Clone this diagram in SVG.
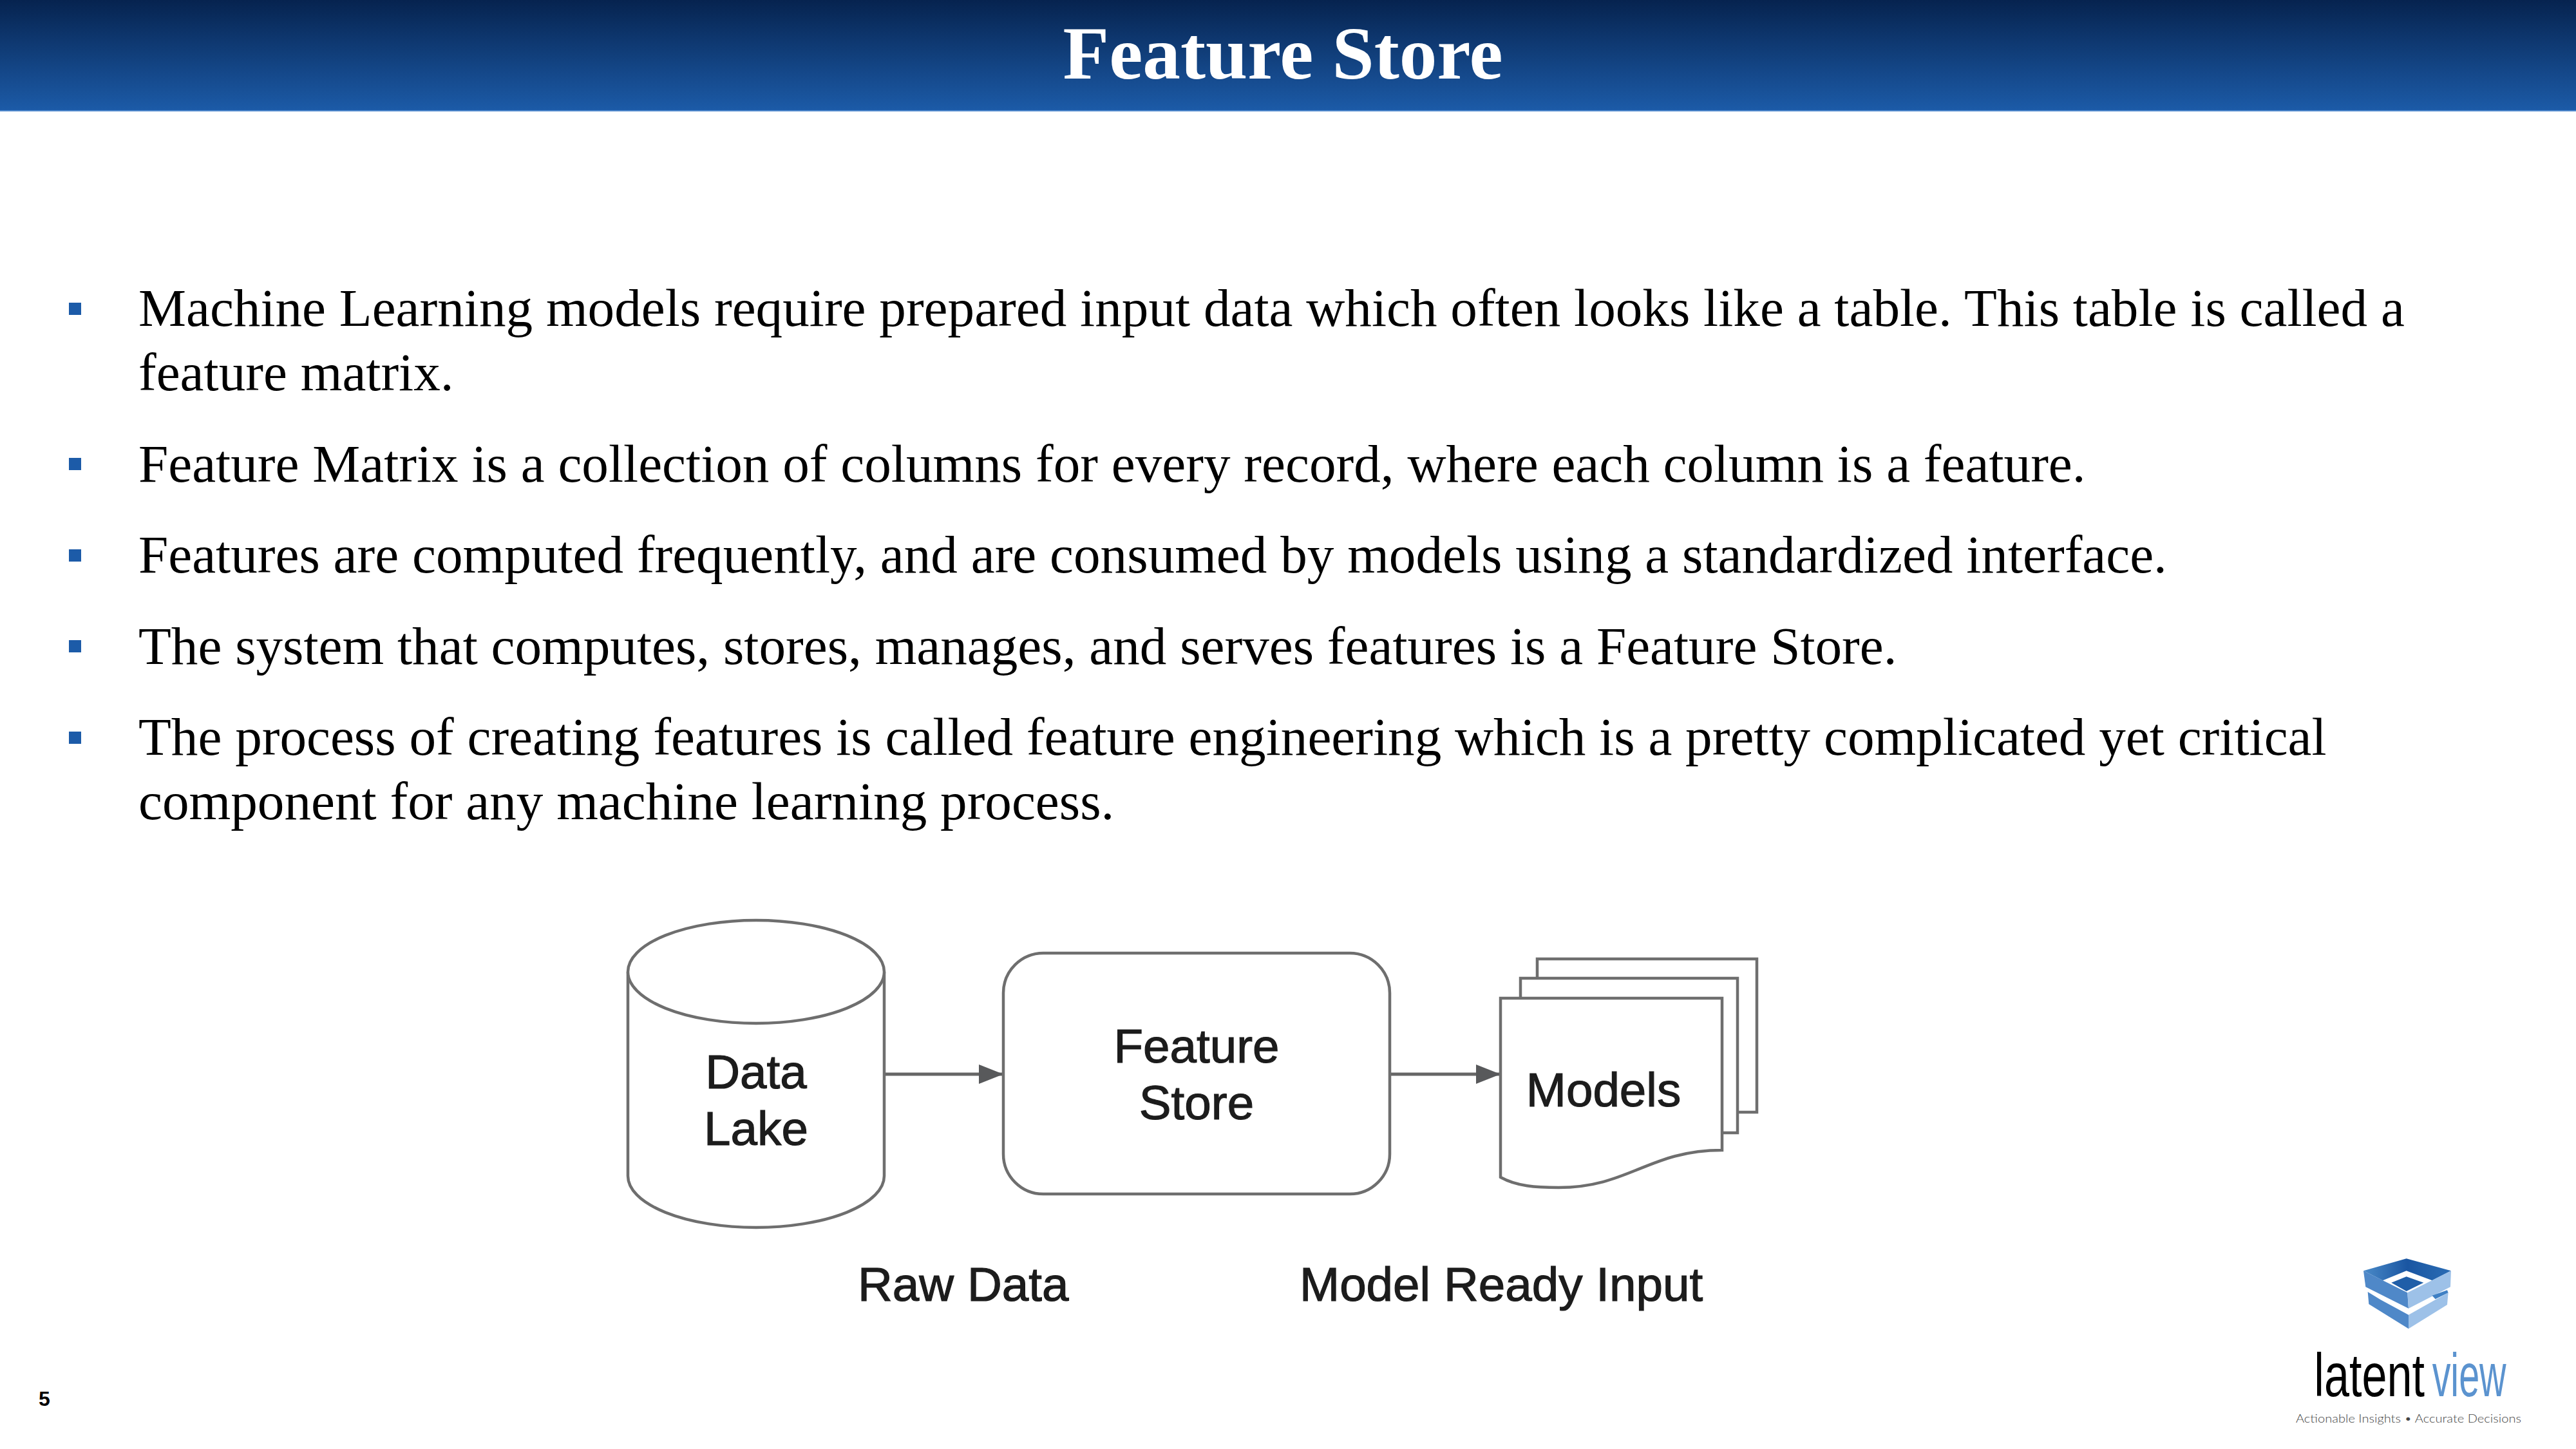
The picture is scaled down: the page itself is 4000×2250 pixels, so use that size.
<svg xmlns="http://www.w3.org/2000/svg" width="4000" height="2250" viewBox="0 0 4000 2250">
<defs>
<linearGradient id="hdr" x1="0" y1="0" x2="0" y2="1"><stop offset="0" stop-color="#06234f"/><stop offset="1" stop-color="#1c5ba8"/></linearGradient>
<linearGradient id="rim" x1="0" y1="0" x2="1" y2="0"><stop offset="0" stop-color="#4a8ac8"/><stop offset="0.5" stop-color="#1a56a2"/><stop offset="1" stop-color="#2a6cb4"/></linearGradient>
<marker id="ah" markerUnits="userSpaceOnUse" markerWidth="38" markerHeight="30" refX="38" refY="15" orient="auto"><path d="M0 0L38 15L0 30Z" fill="#58595b"/></marker>
</defs>
<style>
.body{font-family:"Liberation Serif","Times New Roman",serif;font-size:83.2px;fill:#000}
.bul{fill:#1c5ba8}
.shape{fill:#fff;stroke:#6e6e6e;stroke-width:4.5}
.lab{font-family:"Liberation Sans",Arial,sans-serif;font-size:74.6px;fill:#1c1c1c;stroke:#1c1c1c;stroke-width:1.2}
.mid{text-anchor:middle}
.conn{stroke:#666;stroke-width:5;fill:none;marker-end:url(#ah)}
</style>
<rect width="4000" height="2250" fill="#fff"/>
<g id="header">
<rect width="4000" height="172" fill="url(#hdr)"/>
<rect y="171" width="4000" height="2" fill="#4f88cc"/>
<text x="1992" y="122" text-anchor="middle" font-family="'Liberation Serif','Times New Roman',serif" font-weight="700" font-size="117.3" fill="#fff">Feature Store</text>
</g>
<g id="bullets">
<rect class="bul" x="107" y="470" width="19" height="19"/>
<rect class="bul" x="107" y="711" width="19" height="19"/>
<rect class="bul" x="107" y="853" width="19" height="19"/>
<rect class="bul" x="107" y="994" width="19" height="19"/>
<rect class="bul" x="107" y="1136" width="19" height="19"/>
<text class="body" x="215" y="506">Machine Learning models require prepared input data which often looks like a table. This table is called a</text>
<text class="body" x="215" y="606">feature matrix.</text>
<text class="body" x="215" y="748">Feature Matrix is a collection of columns for every record, where each column is a feature.</text>
<text class="body" x="215" y="889">Features are computed frequently, and are consumed by models using a standardized interface.</text>
<text class="body" x="215" y="1031">The system that computes, stores, manages, and serves features is a Feature Store.</text>
<text class="body" x="215" y="1172">The process of creating features is called feature engineering which is a pretty complicated yet critical</text>
<text class="body" x="215" y="1272">component for any machine learning process.</text>
</g>
<g id="connectors">
<line class="conn" x1="1373" y1="1668" x2="1558" y2="1668"/>
<line class="conn" x1="2158" y1="1668" x2="2330" y2="1668"/>
</g>
<g id="data-lake">
<path class="shape" d="M975 1509V1826A199 80 0 0 0 1373 1826V1509"/>
<ellipse class="shape" cx="1174" cy="1509" rx="199" ry="80"/>
<text class="lab mid" x="1174" y="1690">Data</text>
<text class="lab mid" x="1174" y="1778">Lake</text>
</g>
<g id="feature-store">
<rect class="shape" x="1558" y="1480" width="600" height="374" rx="62" ry="62"/>
<text class="lab mid" x="1858" y="1650">Feature</text>
<text class="lab mid" x="1858" y="1738">Store</text>
</g>
<g id="models">
<rect class="shape" x="2387" y="1489" width="341" height="238"/>
<rect class="shape" x="2361" y="1519" width="337" height="240"/>
<path class="shape" d="M2330 1550H2674V1786C2560 1786 2530 1844 2420 1844C2385 1844 2355 1842 2330 1828Z"/>
<text class="lab mid" x="2490" y="1718">Models</text>
</g>
<g id="captions">
<text class="lab" x="1332" y="2020">Raw Data</text>
<text class="lab" x="2018" y="2020">Model Ready Input</text>
</g>
<g id="page-number">
<text x="69" y="2183" text-anchor="middle" font-family="'Liberation Sans',Arial,sans-serif" font-weight="700" font-size="32" fill="#000">5</text>
</g>
<g id="logo" transform="translate(3500 1920) scale(0.3333)">
<path d="M510 160L710 103L918 160L830 205L710 160L600 205Z" fill="url(#rim)"/>
<path d="M640 215L710 187L790 215L710 255Z" fill="#1f5ea8"/>
<path d="M510 160L715 262L720 335L520 235Z" fill="#4f88c8"/>
<path d="M918 160L715 262L720 335L915 235Z" fill="#9dc1e8"/>
<path d="M530 258L590 295L720 365V430L535 315Z" fill="#4f88c8"/>
<path d="M905 262L845 295L720 365V430L900 318Z" fill="#9dc1e8"/>
<path d="M830 275L900 250L905 262L845 292Z" fill="#3f80c4"/>
<text x="280" y="745" font-family="'Liberation Sans',Arial,sans-serif" font-size="285" textLength="515" lengthAdjust="spacingAndGlyphs" fill="#000">latent</text>
<text x="830" y="745" font-family="'Liberation Sans',Arial,sans-serif" font-size="285" textLength="345" lengthAdjust="spacingAndGlyphs" fill="#5b93cf">view</text>
<text x="195" y="868" font-family="Lato,'Liberation Sans',sans-serif" font-size="50" font-weight="300" textLength="1050" lengthAdjust="spacingAndGlyphs" fill="#444">Actionable Insights • Accurate Decisions</text>
</g>
</svg>
